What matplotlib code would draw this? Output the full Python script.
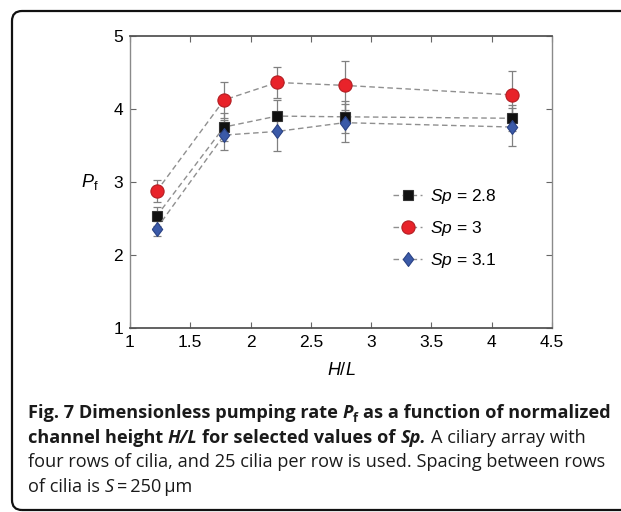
import matplotlib
matplotlib.use("Agg")
import matplotlib.pyplot as plt
from matplotlib.patches import FancyBboxPatch
from matplotlib.transforms import IdentityTransform

plt.rcParams['font.family'] = ['Liberation Sans', 'DejaVu Sans']
plt.rcParams['mathtext.fontset'] = 'custom'
plt.rcParams['mathtext.rm'] = 'Liberation Sans'
plt.rcParams['mathtext.it'] = 'Liberation Sans:italic'
plt.rcParams['mathtext.bf'] = 'Liberation Sans:bold'

# data
hl = [1.22, 1.78, 2.22, 2.78, 4.17]
pf_28 = [2.53, 3.75, 3.90, 3.89, 3.87]
err_28 = [0.13, 0.19, 0.22, 0.22, 0.18]
pf_3 = [2.87, 4.12, 4.36, 4.32, 4.19]
err_3 = [0.15, 0.24, 0.21, 0.33, 0.33]
pf_31 = [2.36, 3.64, 3.69, 3.81, 3.75]
err_31 = [0.10, 0.20, 0.27, 0.26, 0.26]
labels = ['$Sp$ = 2.8', '$Sp$ = 3', '$Sp$ = 3.1']

W, H = 621, 512
fig = plt.figure(figsize=(W / 100, H / 100), dpi=100)
ax = fig.add_axes([130 / W, 1 - 328 / H, 422 / W, (328 - 35.7) / H])

diamond = [(-0.75, 0), (0, 1), (0.75, 0), (0, -1), (-0.75, 0)]
series = [
    (pf_28, err_28, dict(marker='s', ms=7, mfc='#111111', mec='#333333')),
    (pf_3, err_3, dict(marker='o', ms=9.5, mfc='#e8232a', mec='#b31d22')),
    (pf_31, err_31, dict(marker=diamond, ms=10, mfc='#3b5aa8', mec='#2a4285')),
]
for (y, e, st), lab in zip(series, labels):
    ax.errorbar(hl, y, yerr=e, fmt='none', ecolor='#808080', elinewidth=0.9,
                capsize=3, capthick=0.9, zorder=2)
    ax.plot(hl, y, color='#8f8f8f', lw=1, dashes=(4, 2.5), mew=0.8,
            label=lab, zorder=3, **st)

ax.set_xlim(1, 4.5)
ax.set_ylim(1, 5)
ax.set_xticks([1, 1.5, 2, 2.5, 3, 3.5, 4, 4.5])
ax.set_xticklabels(['1', '1.5', '2', '2.5', '3', '3.5', '4', '4.5'])
ax.set_yticks([1, 2, 3, 4, 5])
ax.tick_params(direction='in', length=4, width=0.8, color='#666666',
               labelsize=12.5, top=True, right=True, pad=5)
for s in ['top', 'bottom']:
    ax.spines[s].set_color('#555555')
    ax.spines[s].set_linewidth(1.3)
for s in ['left', 'right']:
    ax.spines[s].set_color('#8a8a8a')
    ax.spines[s].set_linewidth(1.0)

ax.set_xlabel('$H/L$', fontsize=13)
ax.xaxis.set_label_coords(0.5, -0.145)
ax.xaxis.label.set_va('center')
ax.set_ylabel('$P_\\mathrm{f}$', fontsize=13, rotation=0, ha='center', va='center')
ax.yaxis.set_label_coords(-0.095, 0.5)

ax.legend(loc='upper left', bbox_to_anchor=(0.623, 0.482), frameon=False,
          fontsize=12.5, handlelength=1.7, handletextpad=0.45,
          labelspacing=0.75, borderpad=0, borderaxespad=0)

# rounded box round the figure and caption
box = FancyBboxPatch((12, 2), 700, 499, boxstyle='round,pad=0,rounding_size=10',
                     transform=IdentityTransform(), fill=False, ec='#111111',
                     lw=1.6, clip_on=False)
fig.patches.append(box)

# caption, written piece by piece so bold, italic and regular share a line
r = fig.canvas.get_renderer()
cap_size = 13.1
fam = ['Open Sans', 'DejaVu Sans']


def text_width(s, **kw):
    t = fig.text(0, 0, s, transform=IdentityTransform(), family=fam, **kw)
    w = t.get_window_extent(r).width
    t.remove()
    return w


def put(s, x, y, size=cap_size, dy=0, **kw):
    sp = text_width('a a', size=size, **kw) - text_width('aa', size=size, **kw)
    lead = len(s) - len(s.lstrip(' '))
    trail = len(s) - len(s.rstrip(' '))
    core = s.strip(' ')
    x += lead * sp
    t = fig.text(x, y + dy, core, transform=IdentityTransform(), family=fam,
                 size=size, va='baseline', color='#1a1a1a', **kw)
    return x + t.get_window_extent(r).width + trail * sp


x0 = 28
lines = [
    [('Fig. 7 Dimensionless pumping rate ', 'bold', 'normal', False),
     ('P', 'bold', 'italic', False), ('f', 'bold', 'normal', True),
     (' as a function of normalized', 'bold', 'normal', False)],
    [('channel height ', 'bold', 'normal', False), ('H/L', 'bold', 'italic', False),
     (' for selected values of ', 'bold', 'normal', False),
     ('Sp. ', 'bold', 'italic', False),
     ('A ciliary array with', 'normal', 'normal', False)],
    [('four rows of cilia, and 25 cilia per row is used. Spacing between rows',
      'normal', 'normal', False)],
    [('of cilia is ', 'normal', 'normal', False), ('S', 'normal', 'italic', False),
     ('\u2009=\u2009250\u2009\u00b5m', 'normal', 'normal', False)],
]
baselines = [418, 443, 467, 492]
for line, yb in zip(lines, baselines):
    x = x0
    for s, wt, st, sub in line:
        if sub:
            x = put(s, x, H - yb, size=cap_size * 0.7, dy=-3.5, weight=wt, style=st)
        else:
            x = put(s, x, H - yb, weight=wt, style=st)

fig.savefig('out.png', dpi=100)
